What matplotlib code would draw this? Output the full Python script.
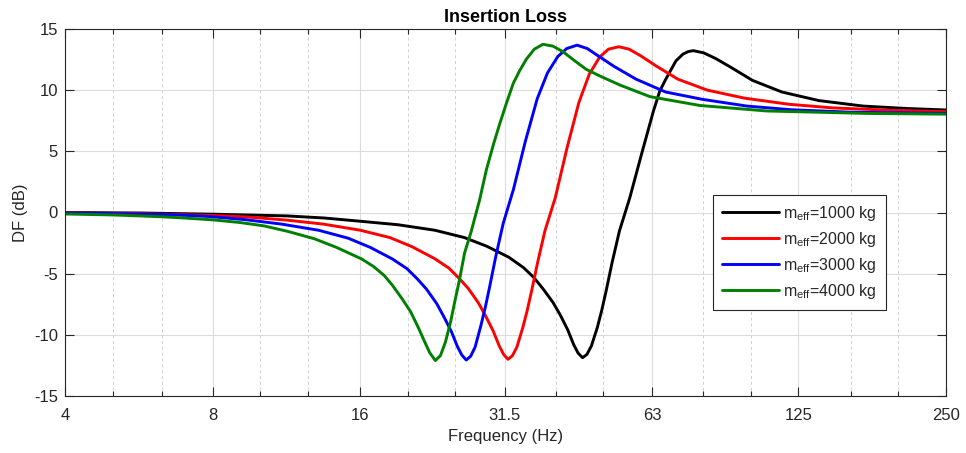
import matplotlib
matplotlib.use("Agg")
import matplotlib.pyplot as plt
from matplotlib.ticker import FixedLocator, NullFormatter

plt.rcParams['font.family'] = ['Liberation Sans', 'DejaVu Sans']
plt.rcParams['mathtext.fontset'] = 'custom'
plt.rcParams['mathtext.rm'] = 'Liberation Sans'

# ---- data ----
f_1000 = [4.0, 5.68, 8.03, 11.35, 13.5, 16.05, 19.09, 22.7, 26.08, 28.93, 32.1, 34.4, 36.1, 37.65,
          39.52, 40.92, 42.36, 43.55, 44.47, 45.4, 46.35, 47.33, 48.66, 49.68, 50.72, 52.15,
          53.99, 56.67, 59.91, 63.33, 65.2, 66.9, 68.4, 70.4, 72.75, 74.5, 76.35, 80.15, 84.7,
          90.8, 100.8, 115.7, 137.6, 169.4, 208.6, 250]
v_1000 = [0.0, -0.04, -0.14, -0.28, -0.45, -0.72, -1.0, -1.45, -2.05, -2.75, -3.65, -4.5, -5.3,
          -6.2, -7.35, -8.4, -9.6, -10.8, -11.5, -11.87, -11.6, -10.9, -9.4, -8.0, -6.4, -4.1,
          -1.5, 1.2, 4.8, 8.3, 9.9, 10.8, 11.5, 12.4, 12.95, 13.15, 13.23, 13.05, 12.6,
          11.9, 10.8, 9.85, 9.15, 8.7, 8.5, 8.38]

f_2000 = [4.0, 5.66, 8.0, 9.51, 11.31, 13.45, 16.0, 18.38, 20.4, 22.63, 24.25, 25.46, 26.54,
          27.86, 28.84, 29.86, 30.7, 31.34, 32.0, 32.67, 33.36, 34.3, 35.02, 35.75, 36.76, 38.05,
          39.94, 42.22, 44.63, 46.85, 49.18, 51.27, 53.82, 56.5, 59.7, 64.0, 71.0, 81.6, 97.0,
          119.4, 147.0, 194, 250]
v_2000 = [-0.03, -0.1, -0.24, -0.38, -0.62, -0.95, -1.45, -2.05, -2.8, -3.75, -4.55, -5.4, -6.2,
          -7.4, -8.5, -9.7, -10.9, -11.6, -12.0, -11.7, -11.0, -9.4, -8.0, -6.4, -4.1, -1.5,
          1.2, 5.3, 9.0, 11.3, 12.7, 13.35, 13.55, 13.35, 12.8, 12.0, 10.9, 10.0, 9.35,
          8.85, 8.55, 8.35, 8.24]

f_3000 = [4.0, 4.65, 6.58, 7.82, 9.3, 11.06, 13.15, 15.11, 16.76, 18.6, 19.93, 20.93, 21.81,
          22.9, 23.7, 24.54, 25.23, 25.76, 26.3, 26.85, 27.42, 28.19, 28.78, 29.38, 30.21, 31.28,
          32.83, 34.7, 36.7, 38.5, 40.42, 42.14, 44.23, 46.43, 49.08, 52.6, 58.36, 67.04, 79.7,
          98.2, 121, 159.6, 250]
v_3000 = [-0.05, -0.07, -0.18, -0.32, -0.58, -0.95, -1.45, -2.1, -2.85, -3.8, -4.6, -5.45, -6.25,
          -7.45, -8.55, -9.75, -10.95, -11.65, -12.06, -11.75, -11.0, -9.2, -7.7, -6.0, -3.6,
          -0.9, 1.9, 5.8, 9.3, 11.4, 12.75, 13.4, 13.68, 13.4, 12.75, 11.95, 10.9, 9.85, 9.25,
          8.7, 8.4, 8.2, 8.1]

f_4000 = [4.0, 5.0, 5.6, 6.3, 7.0, 8.0, 9.1, 10.2, 11.4, 12.9, 14.3, 16.1, 17.0, 17.9, 18.6,
          19.5, 20.25, 21.0, 21.6, 22.15, 22.75, 23.3, 23.85, 24.45, 24.95, 25.45, 26.1, 26.9,
          28.0, 28.9, 29.9, 30.8, 31.8, 32.8, 33.8, 34.9, 36.2, 37.7, 39.5, 41.4, 43.6, 46.2,
          49.3, 54.1, 62.3, 78.7, 107.7, 172, 250]
v_4000 = [-0.12, -0.2, -0.27, -0.35, -0.45, -0.6, -0.82, -1.1, -1.55, -2.15, -2.85, -3.8, -4.4,
          -5.15, -5.95, -7.1, -8.1, -9.4, -10.5, -11.45, -12.1, -11.7, -10.6, -8.9, -7.2, -5.6,
          -3.3, -1.6, 1.02, 3.47, 5.6, 7.29, 9.0, 10.56, 11.6, 12.55, 13.35, 13.75, 13.6, 13.15,
          12.45, 11.7, 11.15, 10.42, 9.47, 8.75, 8.3, 8.1, 8.04]

series = [
    (f_1000, v_1000, 'k', r'm$_{\mathrm{eff}}$=1000 kg'),
    (f_2000, v_2000, 'r', r'm$_{\mathrm{eff}}$=2000 kg'),
    (f_3000, v_3000, 'b', r'm$_{\mathrm{eff}}$=3000 kg'),
    (f_4000, v_4000, (0, 0.5, 0), r'm$_{\mathrm{eff}}$=4000 kg'),
]

x_major = [4, 8, 16, 31.5, 63, 125, 250]
x_major_labels = ['4', '8', '16', '31.5', '63', '125', '250']
x_minor = [5, 6.3, 10, 12.5, 20, 25, 40, 50, 80, 100, 160, 200]
y_ticks = [-15, -10, -5, 0, 5, 10, 15]

# ---- figure ----
W, H = 966, 453
fig = plt.figure(figsize=(W / 100, H / 100), dpi=100)
ax = fig.add_axes([65 / W, 1 - 396 / H, (946 - 65) / W, (396 - 29) / H])

axc = '#262626'
for f, v, c, lab in series:
    ax.plot(f, v, color=c, lw=2.1, label=lab, solid_joinstyle='round', solid_capstyle='round')

ax.set_xscale('log')
ax.set_xlim(4, 250)
ax.set_ylim(-15, 15)
ax.xaxis.set_major_locator(FixedLocator(x_major))
ax.set_xticklabels(x_major_labels)
ax.xaxis.set_minor_locator(FixedLocator(x_minor))
ax.xaxis.set_minor_formatter(NullFormatter())
ax.set_yticks(y_ticks)
ax.set_yticklabels([str(t) for t in y_ticks])

ax.grid(True, which='major', color='#dcdcdc', lw=0.8, ls='-')
ax.grid(True, which='minor', axis='x', color='#d0d0d0', lw=0.7, ls=(0, (3, 3)))
ax.set_axisbelow(True)

ax.tick_params(which='both', direction='in', top=True, right=True, colors=axc,
               labelsize=12, labelcolor=axc)
ax.tick_params(which='major', length=6.5, width=0.8)
ax.tick_params(which='minor', length=3.5, width=0.8)
ax.tick_params(axis='x', which='major', pad=9)
ax.tick_params(axis='y', which='major', pad=5)
for s in ax.spines.values():
    s.set_color(axc)
    s.set_linewidth(0.8)

ax.set_xlabel('Frequency (Hz)', fontsize=12, color=axc, labelpad=4)
ax.set_ylabel('DF (dB)', fontsize=12, color=axc, labelpad=4)
ax.set_title('Insertion Loss', fontsize=13, fontweight='bold', color='black', pad=5)

leg = ax.legend(loc='upper left', bbox_to_anchor=((713 - 65) / (946 - 65), (396 - 195) / (396 - 29)),
                fontsize=11.5, frameon=True, fancybox=False, edgecolor=axc, framealpha=1,
                handlelength=3.6, handletextpad=0.25, borderpad=0.55, labelspacing=0.44,
                borderaxespad=0)
leg.get_frame().set_linewidth(0.8)
for t in leg.get_texts():
    t.set_color(axc)

fig.savefig('out.png', dpi=100)
